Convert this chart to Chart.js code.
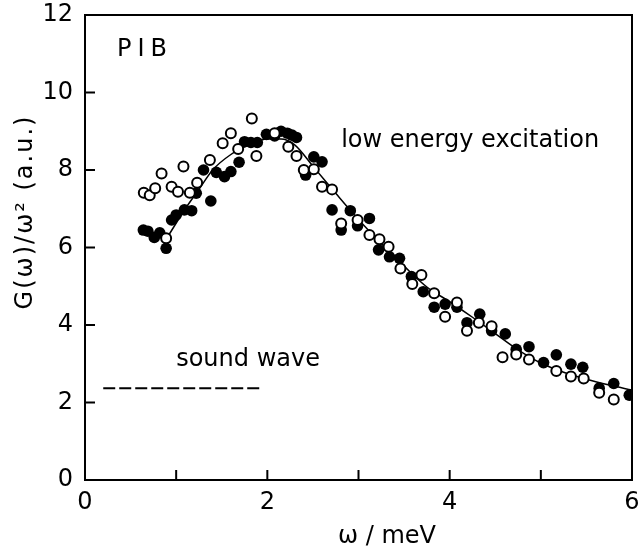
<!DOCTYPE html>
<html>
<head>
<meta charset="utf-8">
<script src="https://cdn.jsdelivr.net/npm/chart.js@4/dist/chart.umd.min.js"></script>
<style>
  body { margin: 0; background: #fff; }
</style>
</head>
<body>
<canvas id="gw" width="639" height="549"></canvas>
<script>
// filled circles
const filledX = [0.64, 0.69, 0.76, 0.82, 0.89, 0.95, 1.00, 1.09, 1.17, 1.22, 1.30, 1.38, 1.44, 1.53, 1.60, 1.69,
                 1.75, 1.82, 1.89, 1.99, 2.08, 2.15, 2.22, 2.27, 2.32, 2.42, 2.51, 2.60, 2.71, 2.81, 2.91, 2.99,
                 3.12, 3.22, 3.34, 3.45, 3.58, 3.71, 3.83, 3.95, 4.08, 4.19, 4.33, 4.46, 4.61, 4.73, 4.87, 5.03,
                 5.17, 5.33, 5.46, 5.64, 5.80, 5.97];
const filledY = [6.45, 6.42, 6.26, 6.38, 5.98, 6.71, 6.84, 6.97, 6.95, 7.40, 8.00, 7.20, 7.94, 7.83, 7.96, 8.20,
                 8.73, 8.71, 8.71, 8.92, 8.88, 9.00, 8.95, 8.90, 8.84, 7.87, 8.34, 8.21, 6.97, 6.45, 6.95, 6.56,
                 6.75, 5.94, 5.76, 5.72, 5.25, 4.86, 4.46, 4.54, 4.46, 4.06, 4.28, 3.85, 3.77, 3.37, 3.44, 3.03,
                 3.23, 2.99, 2.91, 2.37, 2.49, 2.19];

// open circles
const openX = [0.645, 0.71, 0.77, 0.84, 0.89, 0.95, 1.02, 1.08, 1.15, 1.23, 1.37, 1.51, 1.60, 1.68, 1.83, 1.88,
               2.08, 2.23, 2.32, 2.40, 2.51, 2.60, 2.71, 2.81, 2.99, 3.12, 3.23, 3.33, 3.46, 3.59, 3.69, 3.83,
               3.95, 4.08, 4.19, 4.32, 4.46, 4.58, 4.73, 4.87, 5.17, 5.33, 5.47, 5.64, 5.80];
const openY = [7.41, 7.35, 7.53, 7.91, 6.24, 7.57, 7.44, 8.09, 7.41, 7.67, 8.26, 8.69, 8.95, 8.54, 9.33, 8.36,
               8.95, 8.60, 8.36, 8.00, 8.02, 7.57, 7.50, 6.62, 6.71, 6.32, 6.21, 6.02, 5.46, 5.06, 5.29, 4.82,
               4.21, 4.58, 3.85, 4.06, 3.97, 3.17, 3.24, 3.11, 2.81, 2.67, 2.62, 2.25, 2.08];

// fitted curve
const fitX = [0.9, 1.1, 1.25, 1.4, 1.6, 1.8, 2.0, 2.15, 2.3, 2.5, 2.75, 3.0, 3.25, 3.5, 3.75, 4.0, 4.25, 4.5,
              4.75, 5.0, 5.25, 5.5, 5.75, 6.0];
const fitY = [6.25, 7.0, 7.5, 8.0, 8.4, 8.65, 8.8, 8.8, 8.65, 8.1, 7.4, 6.72, 6.1, 5.52, 4.98, 4.6, 4.2, 3.78,
              3.36, 3.02, 2.78, 2.6, 2.45, 2.32];

// sound wave level
const soundX = [0.2, 1.92];
const soundY = [2.37, 2.37];

const xTicks = [0, 2, 4, 6];
const labelFont = '"DejaVu Sans", sans-serif';

function pts(xs, ys) {
    return xs.map((x, i) => ({x: x, y: ys[i]}));
}

// keep tick labels from shrinking the plot area
function noOverhang(s) {
    s.paddingTop = 0;
    s.paddingBottom = 0;
    s.paddingLeft = 0;
    s.paddingRight = 0;
}

// inward tick marks, frame top/right, annotations and axis titles
const decor = {
    id: 'decor',
    afterDraw(chart) {
        const ctx = chart.ctx;
        const xs = chart.scales.x, ys = chart.scales.y;
        const a = chart.chartArea;
        ctx.save();
        ctx.strokeStyle = '#000';
        ctx.lineWidth = 2;
        ctx.beginPath();
        ctx.moveTo(a.left, a.top);
        ctx.lineTo(a.right, a.top);
        ctx.lineTo(a.right, a.bottom);
        for (let v = 1; v < 6; v++) {
            const px = xs.getPixelForValue(v);
            ctx.moveTo(px, a.bottom);
            ctx.lineTo(px, a.bottom - 10);
        }
        for (let v = 2; v < 12; v += 2) {
            const py = ys.getPixelForValue(v);
            ctx.moveTo(a.left, py);
            ctx.lineTo(a.left + 10, py);
        }
        ctx.stroke();

        ctx.fillStyle = '#000';
        ctx.textBaseline = 'middle';
        ctx.textAlign = 'left';
        ctx.font = '24px ' + labelFont;
        ctx.letterSpacing = '6px';
        ctx.fillText('PIB', xs.getPixelForValue(0.35), ys.getPixelForValue(11.1));
        ctx.letterSpacing = '0px';
        ctx.fillText('low energy excitation', xs.getPixelForValue(2.81), ys.getPixelForValue(8.75));
        ctx.fillText('sound wave', xs.getPixelForValue(1.0), ys.getPixelForValue(3.1));

        ctx.textAlign = 'center';
        ctx.fillText('ω / meV', 387, 537);

        ctx.translate(26, 212);
        ctx.rotate(-Math.PI / 2);
        ctx.letterSpacing = '2px';
        ctx.fillText('G(ω)/ω² (a.u.)', 0, 0);
        ctx.restore();
    }
};

new Chart(document.getElementById('gw'), {
    type: 'scatter',
    data: {
        datasets: [
            {
                label: 'open',
                data: pts(openX, openY),
                pointRadius: 5,
                pointBorderWidth: 2,
                pointBackgroundColor: '#fff',
                pointBorderColor: '#000',
                order: 1
            },
            {
                label: 'filled',
                data: pts(filledX, filledY),
                pointRadius: 5.8,
                pointBorderWidth: 0,
                pointBackgroundColor: '#000',
                pointBorderColor: '#000',
                order: 2
            },
            {
                label: 'fit',
                type: 'line',
                data: pts(fitX, fitY),
                showLine: true,
                borderColor: '#000',
                borderWidth: 1.5,
                pointRadius: 0,
                cubicInterpolationMode: 'monotone',
                order: 3
            },
            {
                label: 'sound wave',
                type: 'line',
                data: pts(soundX, soundY),
                showLine: true,
                borderColor: '#000',
                borderWidth: 2,
                borderDash: [12, 4],
                pointRadius: 0,
                order: 4
            }
        ]
    },
    options: {
        responsive: false,
        animation: false,
        layout: { padding: { top: 15, right: 5, left: 0, bottom: 0 } },
        plugins: {
            legend: { display: false },
            tooltip: { enabled: false }
        },
        scales: {
            x: {
                type: 'linear',
                min: 0,
                max: 6,
                afterFit: s => { s.height = 69; noOverhang(s); },
                afterBuildTicks: s => { s.ticks = xTicks.map(v => ({value: v})); },
                ticks: {
                    padding: 0,
                    color: '#000',
                    font: { family: labelFont, size: 24 }
                },
                grid: { display: false },
                border: { display: true, color: '#000', width: 2 }
            },
            y: {
                min: 0,
                max: 12,
                afterFit: s => { s.width = 85; noOverhang(s); },
                ticks: {
                    stepSize: 2,
                    padding: 4,
                    color: '#000',
                    font: { family: labelFont, size: 24 }
                },
                grid: { display: false },
                border: { display: true, color: '#000', width: 2 }
            }
        }
    },
    plugins: [decor]
});
</script>
</body>
</html>
